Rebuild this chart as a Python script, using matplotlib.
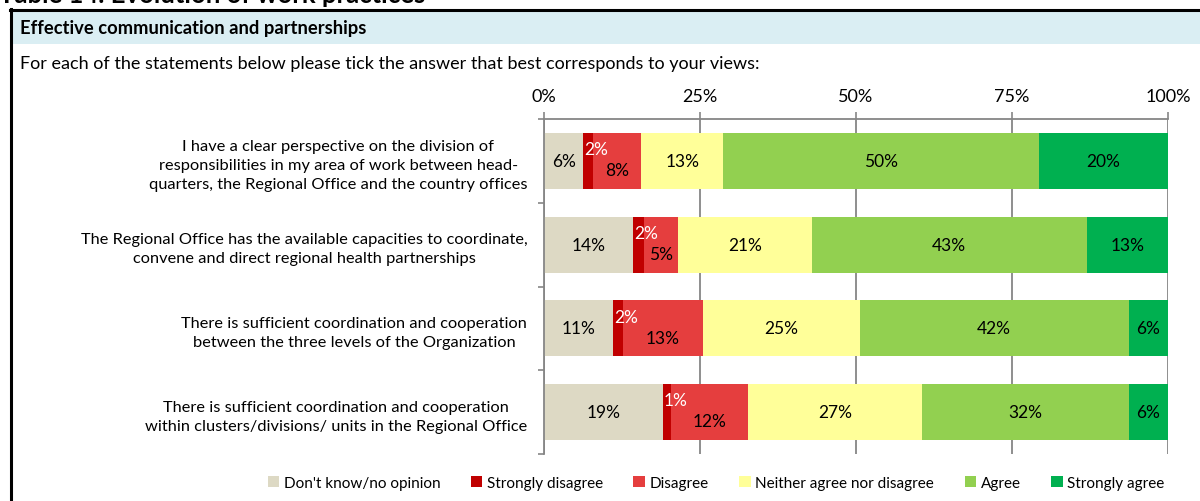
import numpy as np
import matplotlib
matplotlib.use('Agg')
import matplotlib.pyplot as plt
from matplotlib.patches import Rectangle, Patch
from matplotlib.lines import Line2D

plt.rcParams['font.family'] = ['Lato', 'DejaVu Sans']

# ---------------- data ----------------
statements = [
    'I have a clear perspective on the division of\n'
    'responsibilities in my area of work between head-\n'
    'quarters, the Regional Office and the country offices',
    'The Regional Office has the available capacities to coordinate,\n'
    'convene and direct regional health partnerships',
    'There is sufficient coordination and cooperation\n'
    'between the three levels of the Organization',
    'There is sufficient coordination and cooperation\n'
    'within clusters/divisions/ units in the Regional Office',
]
answers = ["Don't know/no opinion", 'Strongly disagree', 'Disagree',
           'Neither agree nor disagree', 'Agree', 'Strongly agree']

dont_know = [6.3, 14.3, 11.1, 19.0]
strongly_disagree = [1.6, 1.8, 1.5, 1.3]
disagree = [7.7, 5.4, 12.9, 12.4]
neither = [13.1, 21.4, 25.1, 27.9]
agree = [50.6, 44.1, 43.1, 33.1]
strongly_agree = [20.7, 13.0, 6.3, 6.3]

lbl_dont_know = ['6%', '14%', '11%', '19%']
lbl_strongly_disagree = ['2%', '2%', '2%', '1%']
lbl_disagree = ['8%', '5%', '13%', '12%']
lbl_neither = ['13%', '21%', '25%', '27%']
lbl_agree = ['50%', '43%', '42%', '32%']
lbl_strongly_agree = ['20%', '13%', '6%', '6%']

x_ticks = [0, 25, 50, 75, 100]
x_ticklabels = ['0%', '25%', '50%', '75%', '100%']

COLORS = ['#DDD9C4', '#C00000', '#E53E3E', '#FFFF99', '#92D050', '#00B050']

W, H = 1200, 502


def fx(x):
    return x / W


def fy(y):
    return 1 - y / H


fig = plt.figure(figsize=(12, 5.02), dpi=100)

# ---------------- table frame ----------------
fig.patches.append(Rectangle((fx(12), fy(45)), fx(1200 - 12), 33 / H,
                             transform=fig.transFigure, facecolor='#DAEEF3',
                             edgecolor='none', zorder=0))
fig.lines.append(Line2D([fx(10), fx(1200)], [fy(11), fy(11)],
                        transform=fig.transFigure, color='black', lw=2.2))
fig.lines.append(Line2D([fx(11), fx(11)], [fy(10), fy(502)],
                        transform=fig.transFigure, color='black', lw=2.2))

# title sits above the crop, only its lower part shows
fig.text(fx(-1), fy(3), 'Table 14. Evolution of work practices',
         fontsize=18.5, fontweight='bold', va='baseline', ha='left')
fig.text(fx(20), fy(29), 'Effective communication and partnerships',
         fontsize=13.2, fontweight='bold', va='center', ha='left')
fig.text(fx(20), fy(64), 'For each of the statements below please tick the '
         'answer that best corresponds to your views:',
         fontsize=13, va='center', ha='left')

# ---------------- chart ----------------
ax = fig.add_axes([fx(544), fy(455), fx(1168) - fx(544), (455 - 120) / H])

series = [dont_know, strongly_disagree, disagree, neither, agree, strongly_agree]
labels = [lbl_dont_know, lbl_strongly_disagree, lbl_disagree, lbl_neither,
          lbl_agree, lbl_strongly_agree]
ypos = np.arange(len(statements))
left = np.zeros(len(statements))
BAR_H = 0.67

for k, (vals, labs) in enumerate(zip(series, labels)):
    vals = np.array(vals)
    ax.barh(ypos, vals, left=left, height=BAR_H, color=COLORS[k],
            edgecolor='none', zorder=2)
    for i in range(len(vals)):
        if k == 1:
            ax.text(left[i] + 0.1, ypos[i] - 0.14, labs[i], color='white',
                    fontsize=12.5, ha='left', va='center', zorder=3)
        elif k == 2:
            ax.text(left[i] + vals[i] / 2, ypos[i] + 0.11, labs[i],
                    fontsize=12.5, ha='center', va='center', zorder=3)
        else:
            ax.text(left[i] + vals[i] / 2, ypos[i], labs[i],
                    fontsize=12.5, ha='center', va='center', zorder=3)
    left += vals

ax.set_xlim(0, 100)
ax.set_ylim(3.5, -0.5)
ax.xaxis.tick_top()
ax.set_xticks(x_ticks)
ax.set_xticklabels(x_ticklabels, fontsize=13)
ax.tick_params(axis='x', length=5, width=1.2, color='#868686', pad=6)
ax.grid(axis='x', color='#868686', lw=1.3, zorder=1)

ax.set_yticks(ypos)
ax.set_yticklabels(statements, fontsize=11.8, multialignment='center',
                   linespacing=1.45)
ax.set_yticks(np.arange(-0.5, 4.0, 1.0), minor=True)
ax.tick_params(axis='y', which='major', length=0, pad=12)
ax.tick_params(axis='y', which='minor', length=4, width=1.2, color='#868686')

for s in ['right', 'bottom']:
    ax.spines[s].set_visible(False)
for s in ['top', 'left']:
    ax.spines[s].set_color('#868686')
    ax.spines[s].set_linewidth(1.3)

handles = [Patch(facecolor=c, edgecolor='none') for c in COLORS]
fig.legend(handles, answers, loc='center', bbox_to_anchor=(fx(716), fy(484)),
           ncol=6, frameon=False, fontsize=11, handlelength=0.75,
           handleheight=0.75, handletextpad=0.3, columnspacing=2.0,
           borderaxespad=0)

fig.savefig('out.png', dpi=100)
